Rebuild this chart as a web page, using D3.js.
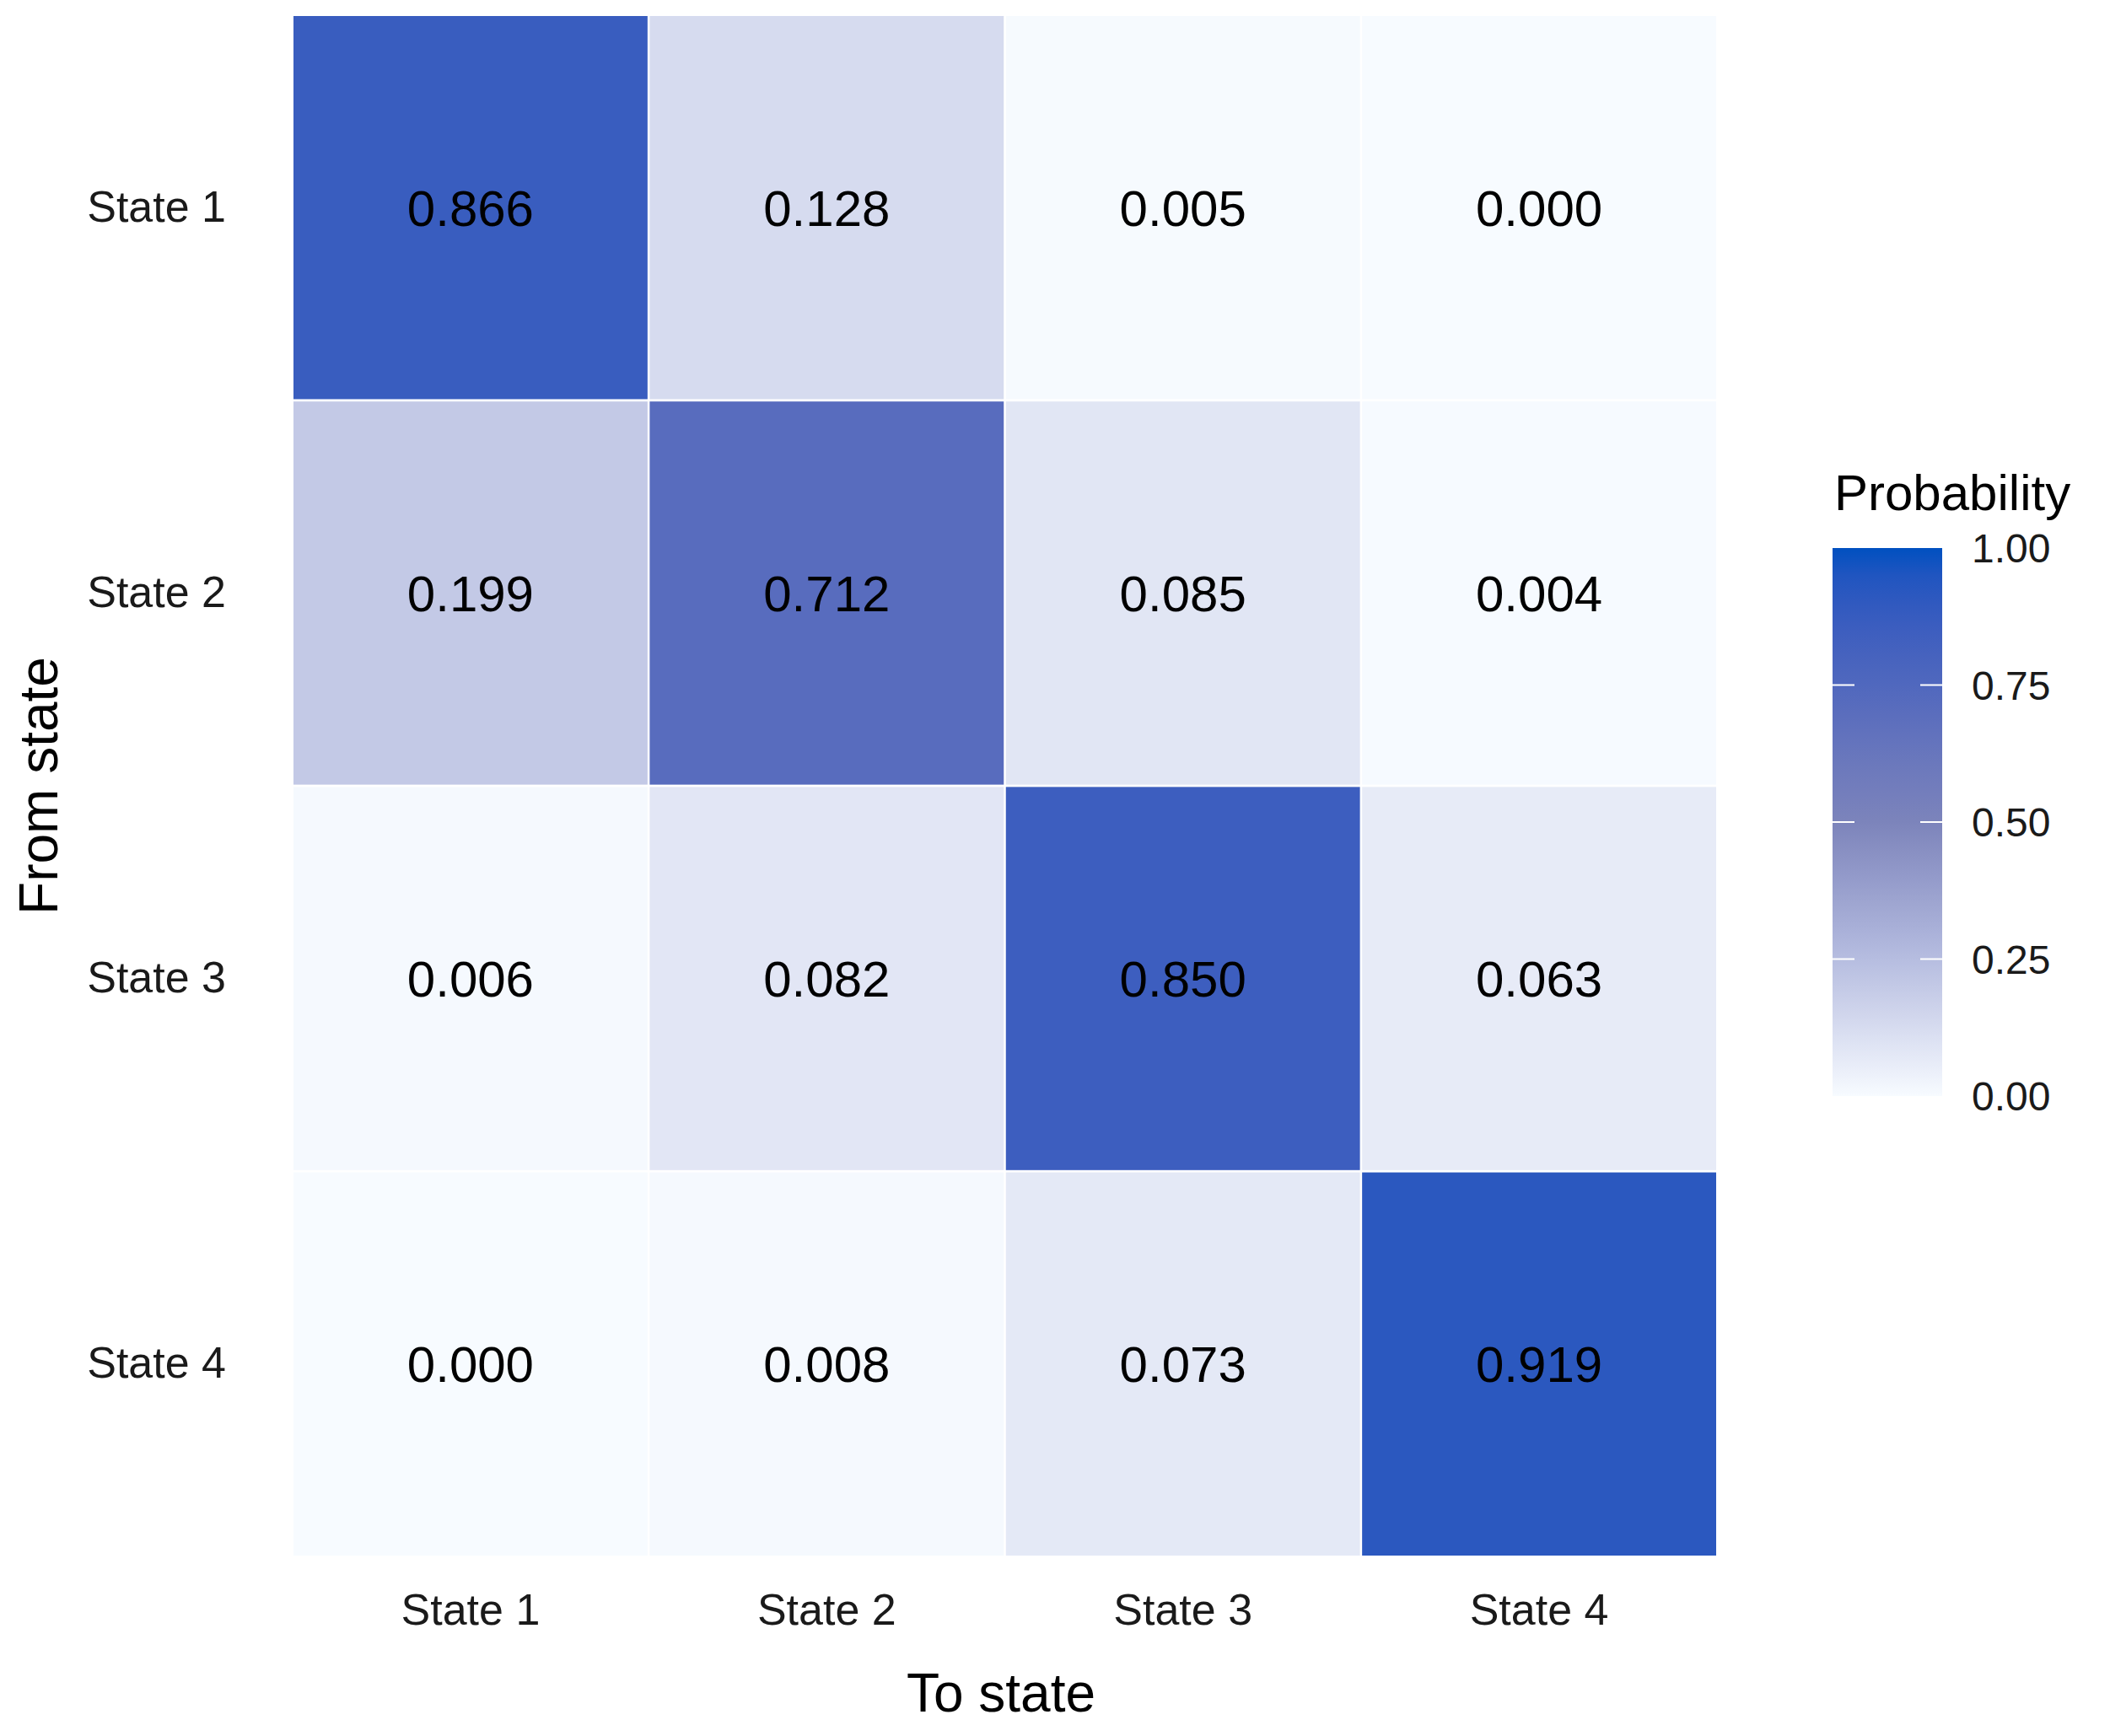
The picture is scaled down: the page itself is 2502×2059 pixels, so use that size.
<!DOCTYPE html>
<html><head><meta charset="utf-8">
<script src="https://cdn.jsdelivr.net/npm/d3@7"></script>
<style>body{margin:0;background:#fff}</style>
</head><body>
<div id="chart"></div>
<script>
// data
var fromStates = ["State 1", "State 2", "State 3", "State 4"];
var toStates = ["State 1", "State 2", "State 3", "State 4"];
var probs = [
  [0.866, 0.128, 0.005, 0.000],
  [0.199, 0.712, 0.085, 0.004],
  [0.006, 0.082, 0.850, 0.063],
  [0.000, 0.008, 0.073, 0.919]
];
var legendTicks = [0, 0.25, 0.5, 0.75, 1];

var W = 2502, H = 2059;
var svg = d3.select("#chart").append("svg").attr("width", W).attr("height", H);
var font = "Arial, 'Liberation Sans', sans-serif";

var x = d3.scaleBand().domain(toStates).range([348, 2035]).paddingInner(0.006);
var y = d3.scaleBand().domain(fromStates).range([19, 1845]).paddingInner(0.006);

var color = d3.scaleLinear()
  .domain([0, 0.25, 0.5, 0.75, 1])
  .range(["#f7fbff", "#b6bde0", "#7c84bb", "#5068be", "#0050c0"])
  .interpolate(d3.interpolateLab);

var cells = [];
probs.forEach(function(row, i){
  row.forEach(function(v, j){ cells.push({from: fromStates[i], to: toStates[j], v: v}); });
});

svg.append("g").selectAll("rect").data(cells).enter().append("rect")
  .attr("x", d => x(d.to)).attr("y", d => y(d.from))
  .attr("width", x.bandwidth()).attr("height", y.bandwidth())
  .attr("fill", d => color(d.v));

svg.append("g").selectAll("text").data(cells).enter().append("text")
  .attr("x", d => x(d.to) + x.bandwidth() / 2)
  .attr("y", d => y(d.from) + y.bandwidth() / 2)
  .attr("dy", "0.36em").attr("text-anchor", "middle")
  .style("font-family", font).style("font-size", "60px").attr("fill", "#000")
  .text(d => d.v.toFixed(3));

// axes
var xAxis = svg.append("g").attr("transform", "translate(0,1870)")
  .call(d3.axisBottom(x).tickSize(0).tickPadding(20));
var yAxis = svg.append("g").attr("transform", "translate(348,0)")
  .call(d3.axisLeft(y).tickSize(0).tickPadding(80));
[xAxis, yAxis].forEach(function(a){
  a.select(".domain").remove();
  a.selectAll("text").style("font-family", font).style("font-size", "52px").attr("fill", "#1a1a1a");
});

svg.append("text").attr("x", 1187).attr("y", 2030).attr("text-anchor", "middle")
  .style("font-family", font).style("font-size", "64px").text("To state");
svg.append("text").attr("transform", "translate(68,932) rotate(-90)").attr("text-anchor", "middle")
  .style("font-family", font).style("font-size", "64px").text("From state");

// legend
var lx = 2173, lw = 130, ly0 = 650, ly1 = 1300;
var defs = svg.append("defs");
var grad = defs.append("linearGradient").attr("id", "lg").attr("x1", 0).attr("y1", 1).attr("x2", 0).attr("y2", 0);
d3.range(0, 1.0001, 0.05).forEach(function(t){
  grad.append("stop").attr("offset", t).attr("stop-color", color(t));
});
svg.append("rect").attr("x", lx).attr("y", ly0).attr("width", lw).attr("height", ly1 - ly0).attr("fill", "url(#lg)");
var ly = d3.scaleLinear().domain([0, 1]).range([ly1, ly0]);
var lt = svg.append("g").selectAll("g").data(legendTicks).enter().append("g");
lt.filter(d => d > 0 && d < 1).append("line").attr("x1", lx).attr("x2", lx + 26)
  .attr("y1", d => ly(d)).attr("y2", d => ly(d)).attr("stroke", "#fff").attr("stroke-width", 2);
lt.filter(d => d > 0 && d < 1).append("line").attr("x1", lx + lw - 26).attr("x2", lx + lw)
  .attr("y1", d => ly(d)).attr("y2", d => ly(d)).attr("stroke", "#fff").attr("stroke-width", 2);
lt.append("text").attr("x", 2338).attr("y", d => ly(d)).attr("dy", "0.36em")
  .style("font-family", font).style("font-size", "48px").attr("fill", "#1a1a1a")
  .text(d => d3.format(".2f")(d));
svg.append("text").attr("x", 2175).attr("y", 605)
  .style("font-family", font).style("font-size", "60px").text("Probability");
</script>
</body></html>
